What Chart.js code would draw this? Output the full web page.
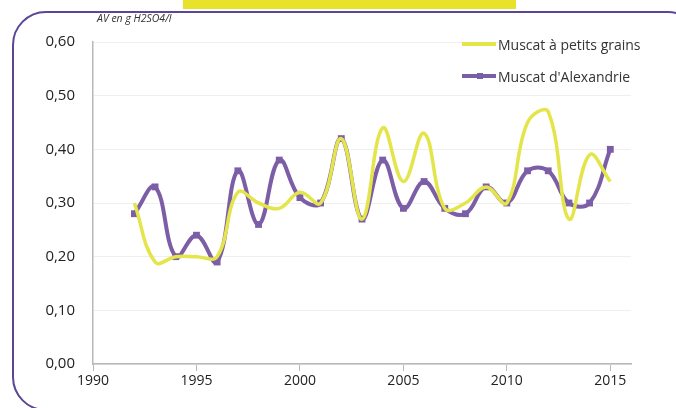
<!DOCTYPE html>
<html>
<head>
<meta charset="utf-8">
<title>Acidite volatile</title>
<script src="https://cdn.jsdelivr.net/npm/chart.js@4.4.0/dist/chart.umd.min.js"></script>
<style>
    body { margin:0; width:676px; height:408px; overflow:hidden; background:#fff; font-family:"Open Sans", "Liberation Sans", sans-serif; }
    #wrap { position:relative; width:676px; height:408px; }
    #topbar { position:absolute; left:183px; top:0; width:333px; height:9px; background:#e9e22b; }
    #frame { position:absolute; left:12px; top:11px; width:690px; height:400px; border:2px solid #5a4695; border-radius:34px; box-sizing:border-box; }
    #stage { position:absolute; left:0; top:0; }
    #unit { position:absolute; left:97px; top:11px; font-size:10.5px; font-style:italic; color:#333; }
    #legend { position:absolute; left:462px; top:28px; font-size:14px; color:#333; }
    .row { height:32px; display:flex; align-items:center; }
    .sw { width:34px; height:4px; margin-right:2px; position:relative; }
    .sw i { position:absolute; left:15px; top:-1px; width:6px; height:6px; background:#7c5ea6; }
</style>
</head>
<body>
<div id="wrap">
    <div id="topbar"></div>
    <div id="frame"></div>
    <canvas id="stage" width="676" height="408"></canvas>
    <div id="unit">AV en g H2SO4/l</div>
    <div id="legend">
        <div class="row"><span class="sw" style="background:#e4e54a"></span>Muscat à petits grains</div>
        <div class="row"><span class="sw" style="background:#7c5ea6"><i></i></span>Muscat d'Alexandrie</div>
    </div>
</div>
<script>
    // annees et valeurs
    var years = [1992,1993,1994,1995,1996,1997,1998,1999,2000,2001,2002,2003,2004,2005,2006,2007,2008,2009,2010,2011,2012,2013,2014,2015];
    var petitsGrains = [0.30,0.19,0.20,0.20,0.20,0.32,0.30,0.29,0.32,0.30,0.42,0.27,0.44,0.34,0.43,0.29,0.30,0.33,0.30,0.45,0.47,0.27,0.39,0.34];
    var alexandrie = [0.28,0.33,0.20,0.24,0.19,0.36,0.26,0.38,0.31,0.30,0.42,0.27,0.38,0.29,0.34,0.29,0.28,0.33,0.30,0.36,0.36,0.30,0.30,0.40];
    var xTicks = [1990,1995,2000,2005,2010,2015];
    var yTicks = [0,0.1,0.2,0.3,0.4,0.5,0.6];

    function pts(vals){
        var out = [];
        for(var i = 0; i < years.length; i++){
            out.push({x: years[i], y: vals[i]});
        }
        return out;
    }

    var canvas = document.getElementById('stage');
    var chart = new Chart(canvas, {
        type: 'line',
        data: {
            datasets: [
                {
                    label: 'Muscat à petits grains',
                    data: pts(petitsGrains),
                    borderColor: '#e4e54a',
                    borderWidth: 3.5,
                    pointRadius: 0,
                    tension: 0.4
                },
                {
                    label: "Muscat d'Alexandrie",
                    data: pts(alexandrie),
                    borderColor: '#7c5ea6',
                    backgroundColor: '#7c5ea6',
                    borderWidth: 4,
                    pointStyle: 'rect',
                    pointRadius: 2,
                    tension: 0.4
                }
            ]
        },
        options: {
            responsive: false,
            animation: false,
            layout: { padding: { top: 42, right: 45, left: 0, bottom: 0 } },
            plugins: { legend: { display: false }, tooltip: { enabled: false } },
            scales: {
                x: {
                    type: 'linear',
                    min: 1990,
                    max: 2016,
                    afterBuildTicks: function(scale){
                        scale.ticks = xTicks.map(function(v){ return {value: v}; });
                    },
                    afterFit: function(scale){ scale.height = 44; },
                    border: { color: '#b8b8b8', width: 1.5 },
                    grid: { drawOnChartArea: false, drawTicks: true, tickLength: 7, color: '#b8b8b8' },
                    ticks: {
                        color: '#222',
                        font: { family: 'Open Sans', size: 14 },
                        padding: 2,
                        maxRotation: 0,
                        callback: function(v){ return String(v); }
                    }
                },
                y: {
                    min: 0,
                    max: 0.6,
                    afterBuildTicks: function(scale){
                        scale.ticks = yTicks.map(function(v){ return {value: v}; });
                    },
                    afterFit: function(scale){ scale.width = 93; },
                    border: { color: '#b8b8b8', width: 1.5 },
                    grid: { color: '#efefef', drawTicks: false, lineWidth: 1 },
                    ticks: {
                        color: '#222',
                        font: { family: 'Open Sans', size: 15 },
                        padding: 18,
                        callback: function(v){ return v.toFixed(2).replace('.', ','); }
                    }
                }
            }
        }
    });
</script>
</body>
</html>
